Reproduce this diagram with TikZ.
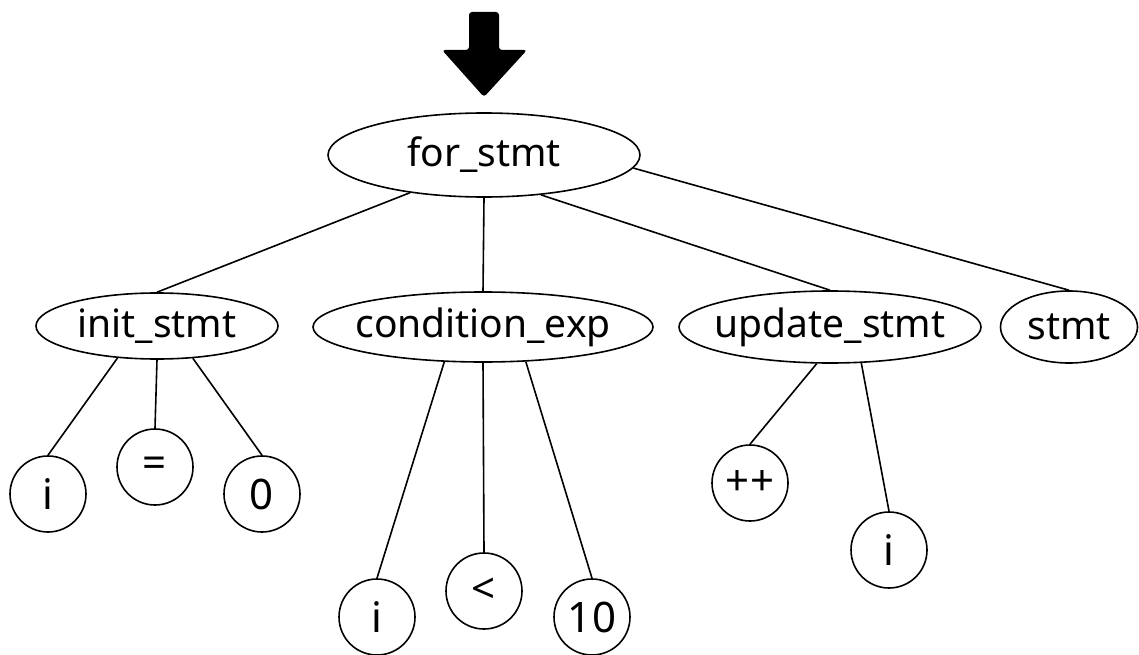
\documentclass[tikz,border=0pt]{standalone}
\usepackage{fontspec}
\setmainfont{Noto Sans}
\usetikzlibrary{shapes.geometric}
\begin{document}
\begin{tikzpicture}[x=1pt,y=-1pt,
  lw/.style={line width=1.6pt},
  txt/.style={font=\fontsize{39}{44}\selectfont},
  ltxt/.style={font=\fontsize{42}{46}\selectfont},
  ell/.style={ellipse,draw,lw,inner sep=0pt},
  leaf/.style={circle,draw,lw,inner sep=0pt,minimum size=76pt,ltxt},
  edge/.style={lw}]
\useasboundingbox (0,0) rectangle (1139,655);
% arrow
\fill[rounded corners=3pt] (469,12) -- (499,12) -- (499,50) -- (527,50) -- (484,97) -- (442,50) -- (469,50) -- cycle;
% ellipses
\node[ell,minimum width=312pt,minimum height=84pt,label={[txt]center:for\_stmt}] (for) at (484,155) {};
\node[ell,minimum width=242pt,minimum height=66pt,label={[txt]center:init\_stmt}] (init) at (157,326) {};
\node[ell,minimum width=340pt,minimum height=70pt,label={[txt]center:condition\_exp}] (cond) at (483,327) {};
\node[ell,minimum width=302pt,minimum height=72pt,label={[txt]center:update\_stmt}] (upd) at (830,327) {};
\node[ell,minimum width=137pt,minimum height=72pt,label={[txt]center:stmt}] (stmt) at (1069,327) {};
% leaves
\node[leaf] (i1) at (48,494) {i};
\node[leaf] (eq) at (155,467) {=};
\node[leaf] (zero) at (262,494) {0};
\node[leaf] (i2) at (377,617) {i};
\node[leaf] (lt) at (484,591) {<};
\node[leaf] (ten) at (592,617) {10};
\node[leaf] (pp) at (750,483) {++};
\node[leaf] (i3) at (889,550) {i};
% edges
\draw[edge] (for.207) -- (init.north);
\draw[edge] (for.south) -- (cond.north);
\draw[edge] (for.325) -- (upd.north);
\draw[edge] (for.355) -- (stmt.north);
\draw[edge] (init.219) -- (i1.north);
\draw[edge] (init.south) -- (eq.north);
\draw[edge] (init.318) -- (zero.north);
\draw[edge] (cond.222) -- (i2.north);
\draw[edge] (cond.south) -- (lt.north);
\draw[edge] (cond.321) -- (ten.north);
\draw[edge] (upd.250) -- (pp.north);
\draw[edge] (upd.311) -- (i3.north);
\end{tikzpicture}
\end{document}
